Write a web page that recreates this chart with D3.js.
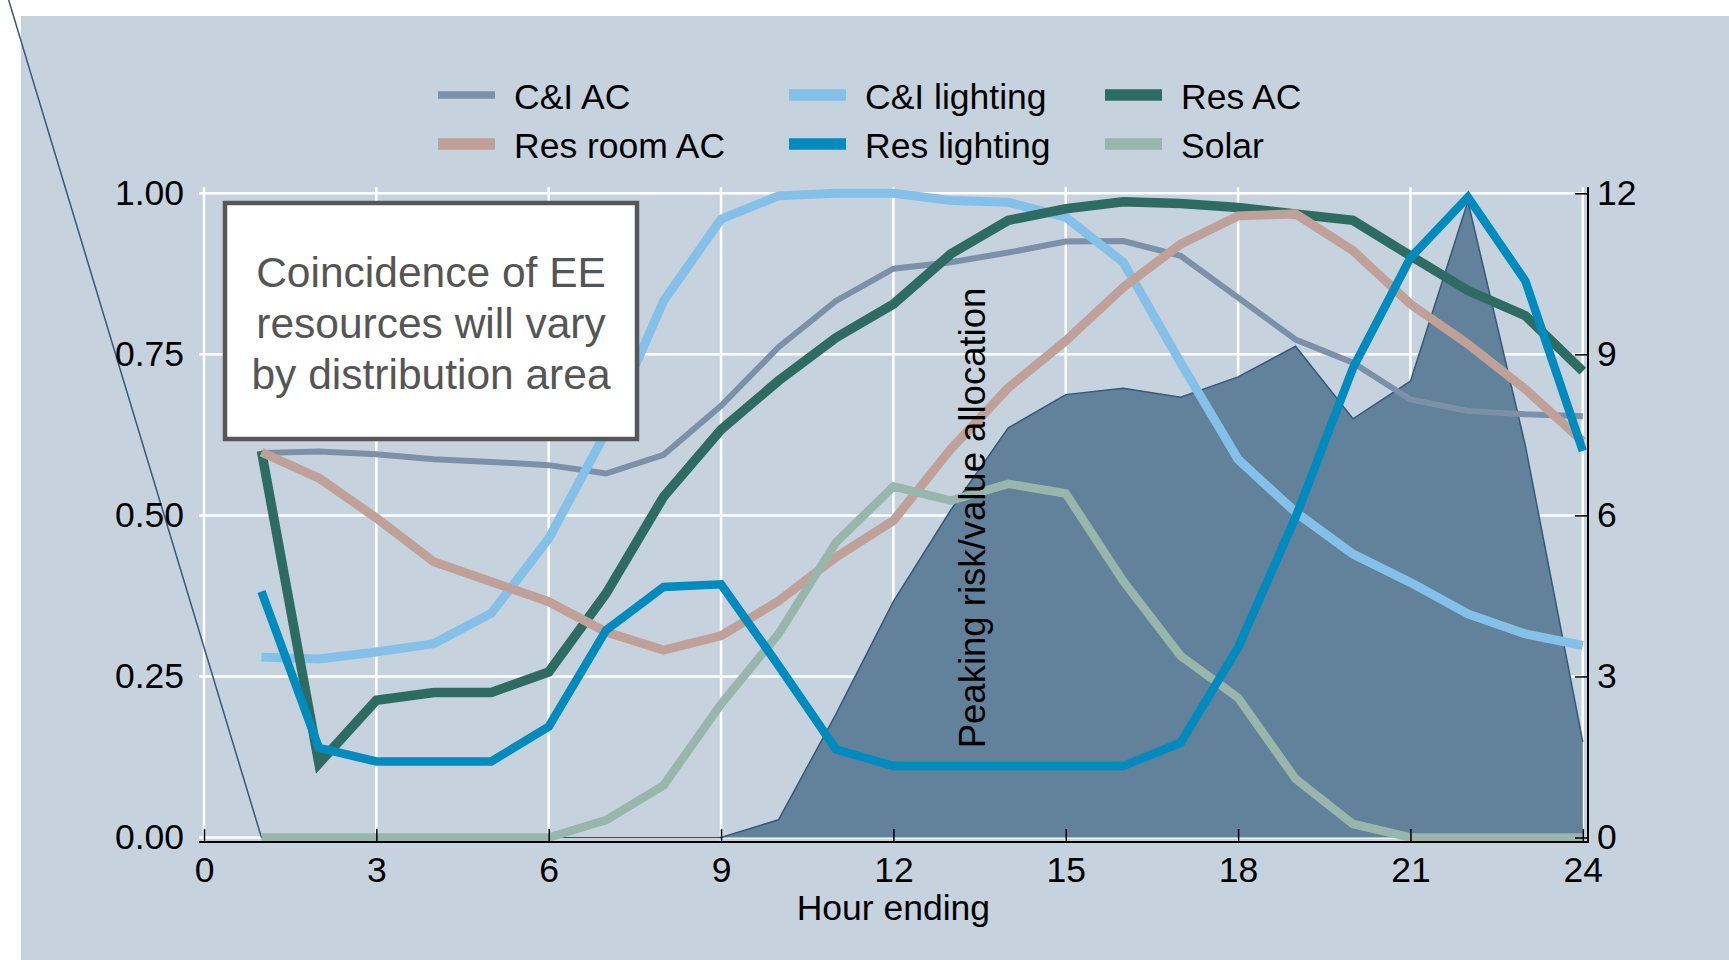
<!DOCTYPE html>
<html>
<head>
<meta charset="utf-8">
<script src="https://cdn.jsdelivr.net/npm/d3@7"></script>
<style>
  body { margin: 0; background: #fff; }
  svg text { font-family: "Liberation Sans", Arial, sans-serif; }
</style>
</head>
<body>
<svg width="1729" height="960"></svg>
<script>
const hours = d3.range(1, 25);
const xTicks = [0, 3, 6, 9, 12, 15, 18, 21, 24];
const yTicks = [0, 0.25, 0.5, 0.75, 1];
const y2Ticks = [0, 3, 6, 9, 12];

const ciAC      = [0.597, 0.599, 0.595, 0.587, 0.583, 0.578, 0.565, 0.594, 0.670, 0.761, 0.833, 0.883, 0.893, 0.908, 0.925, 0.926, 0.903, 0.838, 0.773, 0.737, 0.680, 0.662, 0.657, 0.654];
const ciLight   = [0.280, 0.277, 0.288, 0.301, 0.348, 0.464, 0.630, 0.833, 0.960, 0.996, 1.000, 1.000, 0.989, 0.986, 0.963, 0.893, 0.737, 0.587, 0.505, 0.440, 0.396, 0.347, 0.316, 0.298];
const resAC     = [0.600, 0.115, 0.213, 0.225, 0.225, 0.257, 0.379, 0.529, 0.633, 0.709, 0.776, 0.828, 0.906, 0.958, 0.976, 0.987, 0.984, 0.978, 0.968, 0.958, 0.903, 0.849, 0.810, 0.724];
const resRoomAC = [0.598, 0.558, 0.496, 0.428, 0.397, 0.366, 0.319, 0.291, 0.313, 0.367, 0.435, 0.492, 0.603, 0.698, 0.771, 0.854, 0.921, 0.965, 0.968, 0.911, 0.828, 0.766, 0.696, 0.615];
const resLight  = [0.382, 0.139, 0.118, 0.118, 0.118, 0.172, 0.322, 0.389, 0.393, 0.267, 0.137, 0.111, 0.111, 0.111, 0.111, 0.111, 0.147, 0.295, 0.497, 0.729, 0.900, 0.994, 0.864, 0.600];
const solar     = [0, 0, 0, 0, 0, 0, 0.027, 0.081, 0.207, 0.316, 0.458, 0.545, 0.523, 0.549, 0.534, 0.398, 0.282, 0.217, 0.091, 0.021, 0, 0, 0, 0];
// peaking risk/value allocation, right axis
const peak      = [0, 0, 0, 0, 0, 0, 0, 0, 0, 0.33, 2.3, 4.4, 6.1, 7.63, 8.25, 8.37, 8.2, 8.58, 9.15, 7.8, 8.5, 11.85, 7.3, 1.78];
// stray first point of the area outline (off the plot)
const peakStart = [-3.4, 15.6];

const series = [
  {name: 'C&I AC',      values: ciAC,      color: '#7c90a8', width: 6,   key: 7.5},
  {name: 'C&I lighting', values: ciLight,  color: '#85c0e9', width: 9,   key: 11.5},
  {name: 'Res AC',      values: resAC,     color: '#2e6c63', width: 9.5, key: 11.5},
  {name: 'Res room AC', values: resRoomAC, color: '#c0a199', width: 9,   key: 11.5},
  {name: 'Res lighting', values: resLight, color: '#008bbf', width: 8.5, key: 11.5},
  {name: 'Solar',       values: solar,     color: '#99b6ac', width: 8.5, key: 11.5}
];
// drawing order (later on top)
const drawOrder = ['C&I AC', 'C&I lighting', 'Res AC', 'Res room AC', 'Solar', 'Res lighting'];

const svg = d3.select('svg');
const width = +svg.attr('width');
const height = +svg.attr('height');

svg.append('rect')
  .attr('x', 21).attr('y', 16)
  .attr('width', width - 21).attr('height', height - 16)
  .attr('fill', '#c6d3df');

const x = d3.scaleLinear().domain([0, 24]).range([204, 1582.8]);
const y = d3.scaleLinear().domain([0, 1]).range([837.5, 193.3]);
const y2 = d3.scaleLinear().domain([0, 12]).range([837.5, 193.3]);
const axisY = 842;

// gridlines
const grid = svg.append('g').attr('stroke', '#fff').attr('stroke-width', 2.5);
grid.selectAll('.hg').data(yTicks).enter().append('line')
  .attr('x1', 199).attr('x2', x(24))
  .attr('y1', d => y(d)).attr('y2', d => y(d));
grid.selectAll('.vg').data(xTicks).enter().append('line')
  .attr('x1', d => x(d)).attr('x2', d => x(d))
  .attr('y1', y(1) - 6).attr('y2', axisY);

// area
svg.append('path')
  .datum(hours)
  .attr('fill', '#62819a')
  .attr('d', d3.area().x(h => x(h)).y0(y2(0)).y1((h, i) => y2(peak[i])));
svg.append('path')
  .datum([peakStart].concat(hours.map((h, i) => [h, peak[i]])))
  .attr('fill', 'none')
  .attr('stroke', '#34597a')
  .attr('stroke-width', 1.5)
  .attr('d', d3.line().x(d => x(d[0])).y(d => y2(d[1])));

// lines
const line = d3.line().x((v, i) => x(hours[i])).y(v => y(v));
drawOrder.forEach(n => {
  const s = series.find(d => d.name === n);
  svg.append('path')
    .datum(s.values)
    .attr('fill', 'none')
    .attr('stroke', s.color)
    .attr('stroke-width', s.width)
    .attr('d', line);
});

// axes
const fs = 35.5;
const xAxisG = svg.append('g')
  .attr('transform', `translate(0, ${axisY})`)
  .call(d3.axisBottom(x).tickValues(xTicks).tickSizeInner(-13).tickSizeOuter(0).tickPadding(15));
xAxisG.select('.domain').remove();
xAxisG.selectAll('.tick line').attr('stroke', '#000').attr('stroke-width', 1.5);
xAxisG.selectAll('text').attr('font-size', fs).attr('fill', '#000');

svg.append('line')
  .attr('x1', 199).attr('x2', 1589)
  .attr('y1', axisY).attr('y2', axisY)
  .attr('stroke', '#000').attr('stroke-width', 2);

const yAxisG = svg.append('g')
  .attr('transform', 'translate(199, 0)')
  .call(d3.axisLeft(y).tickValues(yTicks).tickFormat(d3.format('.2f')).tickSize(0).tickPadding(15));
yAxisG.select('.domain').remove();
yAxisG.selectAll('text').attr('font-size', fs).attr('fill', '#000');

const y2AxisG = svg.append('g')
  .attr('transform', 'translate(1588, 0)')
  .call(d3.axisRight(y2).tickValues(y2Ticks).tickSizeInner(-13).tickSizeOuter(0).tickPadding(9));
y2AxisG.select('.domain').remove();
y2AxisG.selectAll('.tick line').attr('stroke', '#000').attr('stroke-width', 1.5);
y2AxisG.selectAll('text').attr('font-size', fs).attr('fill', '#000');
svg.append('line')
  .attr('x1', 1588).attr('x2', 1588)
  .attr('y1', 187).attr('y2', axisY + 1)
  .attr('stroke', '#000').attr('stroke-width', 2);

svg.append('text')
  .attr('x', x(12)).attr('y', 920)
  .attr('text-anchor', 'middle')
  .attr('font-size', fs)
  .text('Hour ending');

svg.append('text')
  .attr('transform', 'translate(985, 518) rotate(-90)')
  .attr('text-anchor', 'middle')
  .attr('font-size', 36.5)
  .text('Peaking risk/value allocation');

// legend
const legendCols = [438, 789, 1105];
const legendRows = [95, 144];
const legendOrder = ['C&I AC', 'C&I lighting', 'Res AC', 'Res room AC', 'Res lighting', 'Solar'];
const legend = svg.append('g');
legendOrder.forEach((n, i) => {
  const s = series.find(d => d.name === n);
  const cx = legendCols[i % 3];
  const cy = legendRows[Math.floor(i / 3)];
  legend.append('rect')
    .attr('x', cx).attr('y', cy - s.key / 2)
    .attr('width', 57).attr('height', s.key)
    .attr('fill', s.color);
  legend.append('text')
    .attr('x', cx + 76).attr('y', cy + 14)
    .attr('font-size', fs)
    .text(s.name);
});

// annotation box
const note = ['Coincidence of EE', 'resources will vary', 'by distribution area'];
svg.append('rect')
  .attr('x', 225).attr('y', 203)
  .attr('width', 412).attr('height', 236)
  .attr('fill', '#fff')
  .attr('stroke', '#575757')
  .attr('stroke-width', 4.5);
svg.append('g').selectAll('text').data(note).enter().append('text')
  .attr('x', 431)
  .attr('y', (d, i) => 287 + i * 51)
  .attr('text-anchor', 'middle')
  .attr('font-size', 42.5)
  .attr('fill', '#555')
  .text(d => d);
</script>
</body>
</html>
